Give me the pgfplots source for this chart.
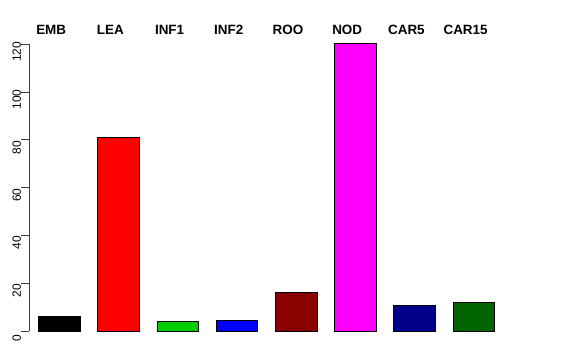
\documentclass[border=0pt]{standalone}
\usepackage{fontspec}
\setmainfont{Liberation Sans}
\usepackage{pgfplots}
\pgfplotsset{compat=1.18}
\definecolor{cgreen}{RGB}{0,205,0}
\definecolor{cdarkred}{RGB}{139,0,0}
\definecolor{cdarkblue}{RGB}{0,0,139}
\definecolor{cdarkgreen}{RGB}{0,100,0}
\definecolor{cmagenta}{RGB}{255,0,255}
\definecolor{cred}{RGB}{255,0,0}
\definecolor{cblue}{RGB}{0,0,255}
\begin{document}
\begin{tikzpicture}
\useasboundingbox (0,0) rectangle (576bp,360bp);
\begin{axis}[
  at={(29bp,29bp)}, anchor=south west,
  scale only axis, width=501bp, height=286.7bp,
  xmin=-0.515, xmax=7.948, ymin=0, ymax=120,
  axis x line=none, axis y line*=left,
  y axis line style={black!75, line width=0.9bp, -},
  ytick={0,20,...,120},
  tick align=outside, major tick length=8bp,
  ytick style={black!75, line width=0.9bp},
  yticklabel style={rotate=90, anchor=base, xshift=-7.5bp},
  /pgf/number format/assume math mode=true,
  tick label style={font=\fontsize{12}{12}\selectfont},
  ybar, bar width=0.703, bar shift=0pt,
  clip=false,
  every axis plot/.append style={draw=black, line width=0.8bp},
]
\addplot[fill=black] coordinates {(0,6.15)};
\addplot[fill=cred] coordinates {(1,81.1)};
\addplot[fill=cgreen] coordinates {(2,4.06)};
\addplot[fill=cblue] coordinates {(3,4.6)};
\addplot[fill=cdarkred] coordinates {(4,16.2)};
\addplot[fill=cmagenta] coordinates {(5,120.5)};
\addplot[fill=cdarkblue] coordinates {(6,10.9)};
\addplot[fill=cdarkgreen] coordinates {(7,12.0)};
\begin{scope}[every node/.style={anchor=base, inner sep=0pt, font=\bfseries\fontsize{13.5}{13.5}\selectfont}]
\node at (axis cs:-0.14,124.3) {EMB};
\node at (axis cs:0.86,124.3) {LEA};
\node at (axis cs:1.86,124.3) {INF1};
\node at (axis cs:2.86,124.3) {INF2};
\node at (axis cs:3.86,124.3) {ROO};
\node at (axis cs:4.86,124.3) {NOD};
\node at (axis cs:5.86,124.3) {CAR5};
\node at (axis cs:6.86,124.3) {CAR15};
\end{scope}
\end{axis}
\end{tikzpicture}
\end{document}
